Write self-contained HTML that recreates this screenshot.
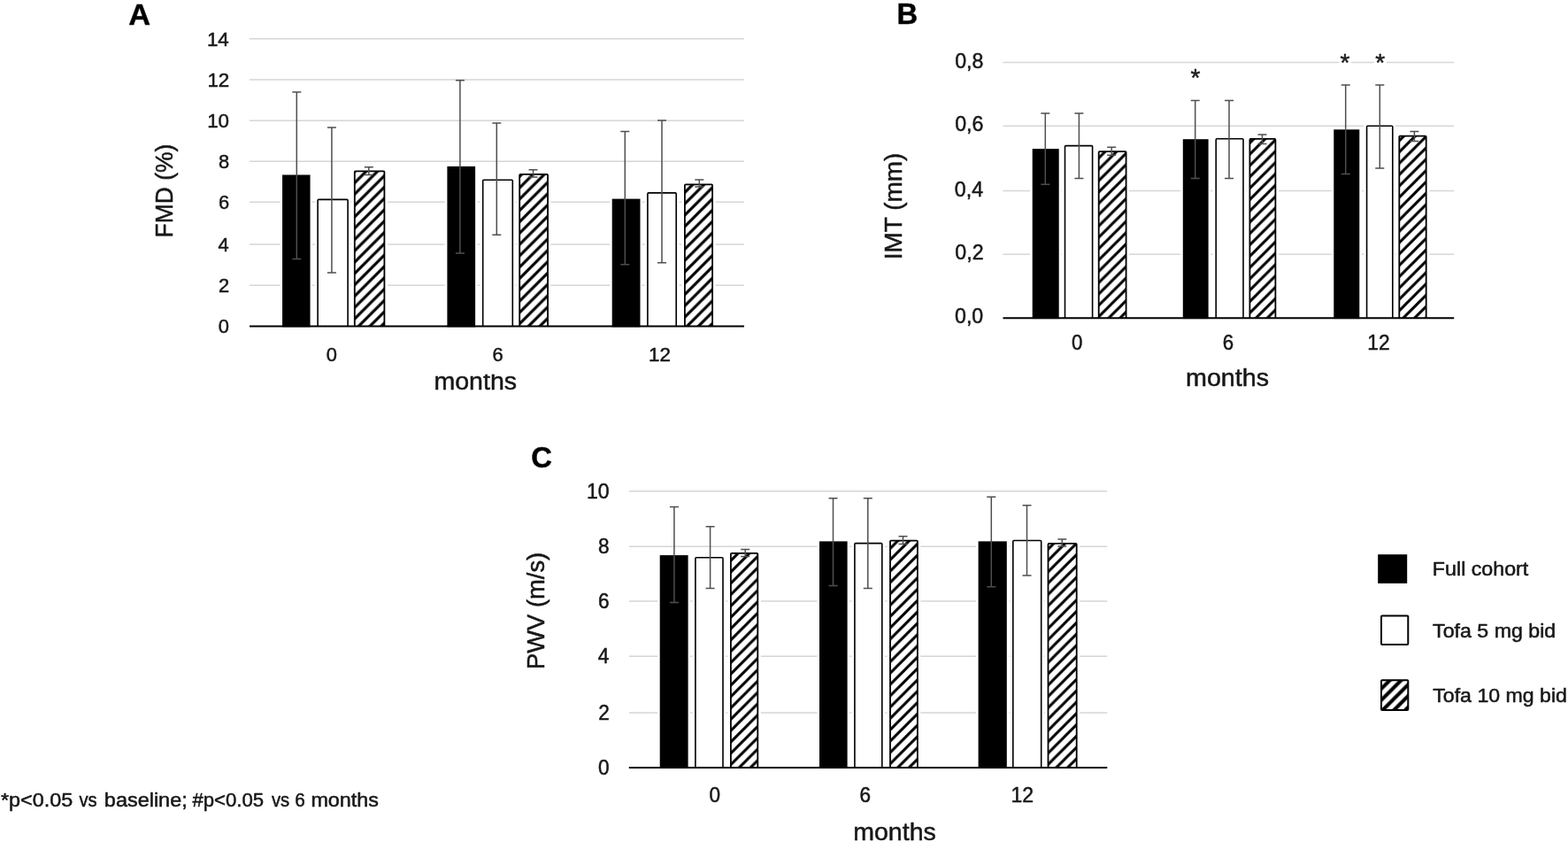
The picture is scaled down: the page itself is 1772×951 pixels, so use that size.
<!DOCTYPE html>
<html lang="en"><head><meta charset="utf-8"><title>Figure: FMD, IMT and PWV over 12 months</title>
<style>html,body{margin:0;padding:0;background:#fff;}body{width:1772px;height:951px;overflow:hidden;}svg{display:block;}text{font-family:'Liberation Sans', 'DejaVu Sans', sans-serif;}</style>
</head><body>
<svg width="1772" height="951" viewBox="0 0 1772 951" font-family="'Liberation Sans', 'DejaVu Sans', sans-serif" fill="#161616">
<style>text{stroke:#161616;stroke-width:0.5px;stroke-linejoin:round;}</style>
<defs>
<pattern id="hatchA" patternUnits="userSpaceOnUse" width="12.8" height="12.8" patternTransform="translate(0 5.7)"><rect width="12.8" height="12.8" fill="#fff"/><path d="M-12.8 25.6L25.6 -12.8M-12.8 12.8L25.6 -25.6M-12.8 38.400000000000006L25.6 0" stroke="#000" stroke-width="3.2" fill="none"/></pattern>
<pattern id="hatchB" patternUnits="userSpaceOnUse" width="12.8" height="12.8" patternTransform="translate(0 12.2)"><rect width="12.8" height="12.8" fill="#fff"/><path d="M-12.8 25.6L25.6 -12.8M-12.8 12.8L25.6 -25.6M-12.8 38.400000000000006L25.6 0" stroke="#000" stroke-width="3.0" fill="none"/></pattern>
<pattern id="hatchC" patternUnits="userSpaceOnUse" width="12.8" height="12.8" patternTransform="translate(0 12.7)"><rect width="12.8" height="12.8" fill="#fff"/><path d="M-12.8 25.6L25.6 -12.8M-12.8 12.8L25.6 -25.6M-12.8 38.400000000000006L25.6 0" stroke="#000" stroke-width="3.0" fill="none"/></pattern>
<pattern id="hatchL" patternUnits="userSpaceOnUse" width="12.8" height="12.8" patternTransform="translate(0 9.4)"><rect width="12.8" height="12.8" fill="#fff"/><path d="M-12.8 25.6L25.6 -12.8M-12.8 12.8L25.6 -25.6M-12.8 38.400000000000006L25.6 0" stroke="#000" stroke-width="4.1" fill="none"/></pattern>
<filter id="soft" filterUnits="userSpaceOnUse" x="0" y="0" width="1772" height="951"><feGaussianBlur stdDeviation="0.45"/></filter>
</defs>
<rect width="1772" height="951" fill="#fff"/>
<g filter="url(#soft)">
<g id="panel-A">
<line x1="282.0" y1="322.25" x2="841.0" y2="322.25" stroke="#d6d6d6" stroke-width="1.5"/>
<line x1="282.0" y1="276.00" x2="841.0" y2="276.00" stroke="#d6d6d6" stroke-width="1.5"/>
<line x1="282.0" y1="228.30" x2="841.0" y2="228.30" stroke="#d6d6d6" stroke-width="1.5"/>
<line x1="282.0" y1="182.20" x2="841.0" y2="182.20" stroke="#d6d6d6" stroke-width="1.5"/>
<line x1="282.0" y1="136.15" x2="841.0" y2="136.15" stroke="#d6d6d6" stroke-width="1.5"/>
<line x1="282.0" y1="89.90" x2="841.0" y2="89.90" stroke="#d6d6d6" stroke-width="1.5"/>
<line x1="282.0" y1="43.80" x2="841.0" y2="43.80" stroke="#d6d6d6" stroke-width="1.5"/>
<text x="246.77" y="376.15" font-size="22.8" textLength="12.17" lengthAdjust="spacingAndGlyphs">0</text>
<text x="247.05" y="329.95" font-size="22.8" textLength="12.17" lengthAdjust="spacingAndGlyphs">2</text>
<text x="246.55" y="283.70" font-size="22.8" textLength="12.17" lengthAdjust="spacingAndGlyphs">4</text>
<text x="246.88" y="236.00" font-size="22.8" textLength="12.17" lengthAdjust="spacingAndGlyphs">6</text>
<text x="246.88" y="189.90" font-size="22.8" textLength="12.17" lengthAdjust="spacingAndGlyphs">8</text>
<text x="234.14" y="143.85" font-size="22.8" textLength="24.85" lengthAdjust="spacingAndGlyphs">10</text>
<text x="234.42" y="97.60" font-size="22.8" textLength="24.85" lengthAdjust="spacingAndGlyphs">12</text>
<text x="233.91" y="51.50" font-size="22.8" textLength="24.85" lengthAdjust="spacingAndGlyphs">14</text>
<rect x="316.45" y="195.10" width="36.70" height="173.35" fill="#fff"/>
<rect x="355.70" y="222.20" width="40.80" height="146.25" fill="#fff"/>
<rect x="397.30" y="190.00" width="40.60" height="178.45" fill="#fff"/>
<rect x="502.80" y="185.50" width="36.90" height="182.95" fill="#fff"/>
<rect x="542.30" y="200.00" width="40.40" height="168.45" fill="#fff"/>
<rect x="583.70" y="193.60" width="38.85" height="174.85" fill="#fff"/>
<rect x="689.10" y="222.20" width="37.00" height="146.25" fill="#fff"/>
<rect x="728.50" y="214.70" width="39.10" height="153.75" fill="#fff"/>
<rect x="770.40" y="205.10" width="38.20" height="163.35" fill="#fff"/>
<rect x="319.05" y="197.50" width="31.50" height="171.85" fill="#000"/>
<path d="M359.10 368.45V226.40Q359.10 225.40 360.10 225.40H392.10Q393.10 225.40 393.10 226.40V368.45" fill="#fff" stroke="#000" stroke-width="1.6"/>
<path d="M400.80 368.45V194.30Q400.80 193.30 401.80 193.30H433.40Q434.40 193.30 434.40 194.30V368.45" fill="url(#hatchA)" stroke="#000" stroke-width="1.8"/>
<rect x="505.40" y="187.90" width="31.70" height="181.45" fill="#000"/>
<path d="M545.70 368.45V204.20Q545.70 203.20 546.70 203.20H578.30Q579.30 203.20 579.30 204.20V368.45" fill="#fff" stroke="#000" stroke-width="1.6"/>
<path d="M587.20 368.45V197.90Q587.20 196.90 588.20 196.90H618.05Q619.05 196.90 619.05 197.90V368.45" fill="url(#hatchA)" stroke="#000" stroke-width="1.8"/>
<rect x="691.70" y="224.60" width="31.80" height="144.75" fill="#000"/>
<path d="M731.90 368.45V218.90Q731.90 217.90 732.90 217.90H763.20Q764.20 217.90 764.20 218.90V368.45" fill="#fff" stroke="#000" stroke-width="1.6"/>
<path d="M773.90 368.45V209.40Q773.90 208.40 774.90 208.40H804.10Q805.10 208.40 805.10 209.40V368.45" fill="url(#hatchA)" stroke="#000" stroke-width="1.8"/>
<line x1="282.0" y1="368.45" x2="841.0" y2="368.45" stroke="#000" stroke-width="1.9"/>
<path d="M335.3 103.9V292.4M330.3 103.9h10M330.3 292.4h10" stroke="#4f4f4f" stroke-width="1.5" fill="none"/>
<path d="M374.9 144.0V308.1M369.9 144.0h10M369.9 308.1h10" stroke="#4f4f4f" stroke-width="1.5" fill="none"/>
<path d="M416.8 188.7V197.6M411.8 188.7h10M411.8 197.6h10" stroke="#4f4f4f" stroke-width="1.5" fill="none"/>
<path d="M519.9 90.7V286.0M514.9 90.7h10M514.9 286.0h10" stroke="#4f4f4f" stroke-width="1.5" fill="none"/>
<path d="M561.3 138.9V265.2M556.3 138.9h10M556.3 265.2h10" stroke="#4f4f4f" stroke-width="1.5" fill="none"/>
<path d="M602.5 191.7V200.0M597.5 191.7h10M597.5 200.0h10" stroke="#4f4f4f" stroke-width="1.5" fill="none"/>
<path d="M706.3 148.6V298.7M701.3 148.6h10M701.3 298.7h10" stroke="#4f4f4f" stroke-width="1.5" fill="none"/>
<path d="M748.0 136.1V296.7M743.0 136.1h10M743.0 296.7h10" stroke="#4f4f4f" stroke-width="1.5" fill="none"/>
<path d="M790.3 202.9V211.0M785.3 202.9h10M785.3 211.0h10" stroke="#4f4f4f" stroke-width="1.5" fill="none"/>
<text x="368.70" y="407.50" font-size="22.8" textLength="12.17" lengthAdjust="spacingAndGlyphs">0</text>
<text x="556.54" y="407.50" font-size="22.8" textLength="12.17" lengthAdjust="spacingAndGlyphs">6</text>
<text x="733.12" y="407.50" font-size="22.8" textLength="24.85" lengthAdjust="spacingAndGlyphs">12</text>
<clipPath id="clip-A"><rect x="482.4" y="422.7" width="110.7" height="40"/></clipPath>
<text x="490.47" y="439.60" font-size="28" textLength="93.61" lengthAdjust="spacingAndGlyphs" clip-path="url(#clip-A)">months</text>
<text x="194.70" y="268.38" font-size="28" textLength="105.67" lengthAdjust="spacingAndGlyphs" transform="rotate(-90 194.70 268.38)">FMD (%)</text>
<text x="145.34" y="27.90" font-size="33" textLength="24.79" lengthAdjust="spacingAndGlyphs" font-weight="bold" fill="#000">A</text>
</g>
<g id="panel-B">
<line x1="1133.5" y1="287.30" x2="1643.2" y2="287.30" stroke="#d6d6d6" stroke-width="1.5"/>
<line x1="1133.5" y1="215.60" x2="1643.2" y2="215.60" stroke="#d6d6d6" stroke-width="1.5"/>
<line x1="1133.5" y1="142.35" x2="1643.2" y2="142.35" stroke="#d6d6d6" stroke-width="1.5"/>
<line x1="1133.5" y1="70.60" x2="1643.2" y2="70.60" stroke="#d6d6d6" stroke-width="1.5"/>
<text x="1079.02" y="365.30" font-size="23.2" textLength="32.25" lengthAdjust="spacingAndGlyphs">0,0</text>
<text x="1079.31" y="293.40" font-size="23.2" textLength="32.25" lengthAdjust="spacingAndGlyphs">0,2</text>
<text x="1078.79" y="221.70" font-size="23.2" textLength="32.25" lengthAdjust="spacingAndGlyphs">0,4</text>
<text x="1079.14" y="148.45" font-size="23.2" textLength="32.25" lengthAdjust="spacingAndGlyphs">0,6</text>
<text x="1079.14" y="76.70" font-size="23.2" textLength="32.25" lengthAdjust="spacingAndGlyphs">0,8</text>
<rect x="1164.10" y="165.70" width="35.20" height="193.50" fill="#fff"/>
<rect x="1200.10" y="161.40" width="37.90" height="197.80" fill="#fff"/>
<rect x="1238.20" y="167.80" width="37.90" height="191.40" fill="#fff"/>
<rect x="1334.20" y="154.80" width="34.00" height="204.40" fill="#fff"/>
<rect x="1370.80" y="153.60" width="37.60" height="205.60" fill="#fff"/>
<rect x="1408.90" y="153.60" width="36.00" height="205.60" fill="#fff"/>
<rect x="1504.70" y="143.90" width="34.20" height="215.30" fill="#fff"/>
<rect x="1541.20" y="139.10" width="36.00" height="220.10" fill="#fff"/>
<rect x="1577.80" y="150.30" width="37.40" height="208.90" fill="#fff"/>
<rect x="1344.0" y="75.7" width="14" height="14" fill="#fff"/>
<rect x="1513.0" y="58.1" width="14" height="14" fill="#fff"/>
<rect x="1552.7" y="58.1" width="14" height="14" fill="#fff"/>
<rect x="1166.70" y="168.10" width="30.00" height="192.00" fill="#000"/>
<path d="M1203.50 359.20V165.60Q1203.50 164.60 1204.50 164.60H1233.60Q1234.60 164.60 1234.60 165.60V359.20" fill="#fff" stroke="#000" stroke-width="1.6"/>
<path d="M1241.70 359.20V172.10Q1241.70 171.10 1242.70 171.10H1271.60Q1272.60 171.10 1272.60 172.10V359.20" fill="url(#hatchB)" stroke="#000" stroke-width="1.8"/>
<rect x="1336.80" y="157.20" width="28.80" height="202.90" fill="#000"/>
<path d="M1374.20 359.20V157.80Q1374.20 156.80 1375.20 156.80H1404.00Q1405.00 156.80 1405.00 157.80V359.20" fill="#fff" stroke="#000" stroke-width="1.6"/>
<path d="M1412.40 359.20V157.90Q1412.40 156.90 1413.40 156.90H1440.40Q1441.40 156.90 1441.40 157.90V359.20" fill="url(#hatchB)" stroke="#000" stroke-width="1.8"/>
<rect x="1507.30" y="146.30" width="29.00" height="213.80" fill="#000"/>
<path d="M1544.60 359.20V143.30Q1544.60 142.30 1545.60 142.30H1572.80Q1573.80 142.30 1573.80 143.30V359.20" fill="#fff" stroke="#000" stroke-width="1.6"/>
<path d="M1581.30 359.20V154.60Q1581.30 153.60 1582.30 153.60H1610.70Q1611.70 153.60 1611.70 154.60V359.20" fill="url(#hatchB)" stroke="#000" stroke-width="1.8"/>
<line x1="1133.5" y1="359.20" x2="1643.2" y2="359.20" stroke="#000" stroke-width="1.9"/>
<path d="M1181.3 128.0V208.2M1176.3 128.0h10M1176.3 208.2h10" stroke="#4f4f4f" stroke-width="1.5" fill="none"/>
<path d="M1219.4 128.0V201.4M1214.4 128.0h10M1214.4 201.4h10" stroke="#4f4f4f" stroke-width="1.5" fill="none"/>
<path d="M1256.2 166.3V175.2M1251.2 166.3h10M1251.2 175.2h10" stroke="#4f4f4f" stroke-width="1.5" fill="none"/>
<path d="M1350.7 113.5V201.4M1345.7 113.5h10M1345.7 201.4h10" stroke="#4f4f4f" stroke-width="1.5" fill="none"/>
<path d="M1389.0 113.5V201.4M1384.0 113.5h10M1384.0 201.4h10" stroke="#4f4f4f" stroke-width="1.5" fill="none"/>
<path d="M1426.5 151.9V162.5M1421.5 151.9h10M1421.5 162.5h10" stroke="#4f4f4f" stroke-width="1.5" fill="none"/>
<path d="M1520.7 96.0V196.5M1515.7 96.0h10M1515.7 196.5h10" stroke="#4f4f4f" stroke-width="1.5" fill="none"/>
<path d="M1559.3 96.0V189.9M1554.3 96.0h10M1554.3 189.9h10" stroke="#4f4f4f" stroke-width="1.5" fill="none"/>
<path d="M1598.4 148.6V159.5M1593.4 148.6h10M1593.4 159.5h10" stroke="#4f4f4f" stroke-width="1.5" fill="none"/>
<text x="1211.09" y="394.70" font-size="23.2" textLength="12.39" lengthAdjust="spacingAndGlyphs">0</text>
<text x="1381.64" y="394.70" font-size="23.2" textLength="12.39" lengthAdjust="spacingAndGlyphs">6</text>
<text x="1545.30" y="394.70" font-size="23.2" textLength="25.29" lengthAdjust="spacingAndGlyphs">12</text>
<text x="1340.06" y="436.10" font-size="28" textLength="94.02" lengthAdjust="spacingAndGlyphs">months</text>
<text x="1019.20" y="293.18" font-size="28" textLength="120.46" lengthAdjust="spacingAndGlyphs" transform="rotate(-90 1019.20 293.18)">IMT (mm)</text>
<text x="1013.49" y="27.10" font-size="33" textLength="23.68" lengthAdjust="spacingAndGlyphs" font-weight="bold" fill="#000">B</text>
<text x="1345.54" y="97.20" font-size="28" textLength="10.90" lengthAdjust="spacingAndGlyphs" fill="#222">*</text>
<text x="1514.54" y="79.60" font-size="28" textLength="10.90" lengthAdjust="spacingAndGlyphs" fill="#222">*</text>
<text x="1554.24" y="79.60" font-size="28" textLength="10.90" lengthAdjust="spacingAndGlyphs" fill="#222">*</text>
</g>
<g id="panel-C">
<line x1="710.8" y1="805.05" x2="1251.3" y2="805.05" stroke="#d6d6d6" stroke-width="1.5"/>
<line x1="710.8" y1="741.30" x2="1251.3" y2="741.30" stroke="#d6d6d6" stroke-width="1.5"/>
<line x1="710.8" y1="679.00" x2="1251.3" y2="679.00" stroke="#d6d6d6" stroke-width="1.5"/>
<line x1="710.8" y1="617.15" x2="1251.3" y2="617.15" stroke="#d6d6d6" stroke-width="1.5"/>
<line x1="710.8" y1="554.80" x2="1251.3" y2="554.80" stroke="#d6d6d6" stroke-width="1.5"/>
<text x="675.93" y="874.90" font-size="23.5" textLength="12.55" lengthAdjust="spacingAndGlyphs">0</text>
<text x="676.21" y="812.95" font-size="23.5" textLength="12.55" lengthAdjust="spacingAndGlyphs">2</text>
<text x="675.70" y="749.20" font-size="23.5" textLength="12.55" lengthAdjust="spacingAndGlyphs">4</text>
<text x="676.04" y="686.90" font-size="23.5" textLength="12.55" lengthAdjust="spacingAndGlyphs">6</text>
<text x="676.04" y="625.05" font-size="23.5" textLength="12.55" lengthAdjust="spacingAndGlyphs">8</text>
<text x="662.90" y="562.70" font-size="23.5" textLength="25.62" lengthAdjust="spacingAndGlyphs">10</text>
<rect x="743.10" y="624.70" width="37.10" height="242.30" fill="#fff"/>
<rect x="782.50" y="626.60" width="37.90" height="240.40" fill="#fff"/>
<rect x="822.40" y="621.50" width="37.40" height="245.50" fill="#fff"/>
<rect x="923.40" y="609.00" width="36.80" height="258.00" fill="#fff"/>
<rect x="962.50" y="610.40" width="37.70" height="256.60" fill="#fff"/>
<rect x="1002.50" y="607.30" width="37.90" height="259.70" fill="#fff"/>
<rect x="1103.00" y="609.00" width="37.40" height="258.00" fill="#fff"/>
<rect x="1141.40" y="607.30" width="38.70" height="259.70" fill="#fff"/>
<rect x="1181.00" y="610.60" width="39.20" height="256.40" fill="#fff"/>
<rect x="745.70" y="627.10" width="31.90" height="240.80" fill="#000"/>
<path d="M785.90 867.00V630.80Q785.90 629.80 786.90 629.80H816.00Q817.00 629.80 817.00 630.80V867.00" fill="#fff" stroke="#000" stroke-width="1.6"/>
<path d="M825.90 867.00V625.80Q825.90 624.80 826.90 624.80H855.30Q856.30 624.80 856.30 625.80V867.00" fill="url(#hatchC)" stroke="#000" stroke-width="1.8"/>
<rect x="926.00" y="611.40" width="31.60" height="256.50" fill="#000"/>
<path d="M965.90 867.00V614.60Q965.90 613.60 966.90 613.60H995.80Q996.80 613.60 996.80 614.60V867.00" fill="#fff" stroke="#000" stroke-width="1.6"/>
<path d="M1006.00 867.00V611.60Q1006.00 610.60 1007.00 610.60H1035.90Q1036.90 610.60 1036.90 611.60V867.00" fill="url(#hatchC)" stroke="#000" stroke-width="1.8"/>
<rect x="1105.60" y="611.40" width="32.20" height="256.50" fill="#000"/>
<path d="M1144.80 867.00V611.50Q1144.80 610.50 1145.80 610.50H1175.70Q1176.70 610.50 1176.70 611.50V867.00" fill="#fff" stroke="#000" stroke-width="1.6"/>
<path d="M1184.50 867.00V614.90Q1184.50 613.90 1185.50 613.90H1215.70Q1216.70 613.90 1216.70 614.90V867.00" fill="url(#hatchC)" stroke="#000" stroke-width="1.8"/>
<line x1="710.8" y1="867.00" x2="1251.3" y2="867.00" stroke="#000" stroke-width="1.9"/>
<path d="M761.9 572.4V680.6M756.9 572.4h10M756.9 680.6h10" stroke="#4f4f4f" stroke-width="1.5" fill="none"/>
<path d="M802.6 594.8V664.6M797.6 594.8h10M797.6 664.6h10" stroke="#4f4f4f" stroke-width="1.5" fill="none"/>
<path d="M842.2 620.4V628.6M837.2 620.4h10M837.2 628.6h10" stroke="#4f4f4f" stroke-width="1.5" fill="none"/>
<path d="M941.5 562.8V661.6M936.5 562.8h10M936.5 661.6h10" stroke="#4f4f4f" stroke-width="1.5" fill="none"/>
<path d="M980.8 562.8V664.6M975.8 562.8h10M975.8 664.6h10" stroke="#4f4f4f" stroke-width="1.5" fill="none"/>
<path d="M1020.5 605.7V614.6M1015.5 605.7h10M1015.5 614.6h10" stroke="#4f4f4f" stroke-width="1.5" fill="none"/>
<path d="M1120.3 561.3V662.8M1115.3 561.3h10M1115.3 662.8h10" stroke="#4f4f4f" stroke-width="1.5" fill="none"/>
<path d="M1160.5 570.7V650.1M1155.5 570.7h10M1155.5 650.1h10" stroke="#4f4f4f" stroke-width="1.5" fill="none"/>
<path d="M1200.3 609.0V617.1M1195.3 609.0h10M1195.3 617.1h10" stroke="#4f4f4f" stroke-width="1.5" fill="none"/>
<text x="801.51" y="906.00" font-size="23.5" textLength="12.55" lengthAdjust="spacingAndGlyphs">0</text>
<text x="971.55" y="906.00" font-size="23.5" textLength="12.55" lengthAdjust="spacingAndGlyphs">6</text>
<text x="1142.43" y="906.00" font-size="23.5" textLength="25.62" lengthAdjust="spacingAndGlyphs">12</text>
<text x="964.28" y="948.90" font-size="28" textLength="93.50" lengthAdjust="spacingAndGlyphs">months</text>
<text x="615.30" y="755.96" font-size="28" textLength="132.17" lengthAdjust="spacingAndGlyphs" transform="rotate(-90 615.30 755.96)">PWV (m/s)</text>
<text x="600.19" y="527.60" font-size="33" textLength="23.60" lengthAdjust="spacingAndGlyphs" font-weight="bold" fill="#000">C</text>
</g>
<g id="legend">
<rect x="1557.2" y="626.2" width="33" height="32.7" fill="#000"/>
<rect x="1561" y="695.5" width="30.3" height="32.5" fill="#fff" stroke="#000" stroke-width="2" rx="1"/>
<rect x="1561" y="768.3" width="30.3" height="33.7" fill="url(#hatchL)" stroke="#000" stroke-width="2" rx="1"/>
<text x="1618.88" y="649.70" font-size="22" textLength="108.42" lengthAdjust="spacingAndGlyphs">Full cohort</text>
<text x="1619.08" y="719.70" font-size="22" textLength="139.10" lengthAdjust="spacingAndGlyphs">Tofa 5 mg bid</text>
<text x="1619.28" y="793.40" font-size="22" textLength="151.62" lengthAdjust="spacingAndGlyphs">Tofa 10 mg bid</text>
</g>
<text id="footnote" y="910.6" font-size="21.5"><tspan x="0.99" textLength="81.26" lengthAdjust="spacingAndGlyphs">*p&lt;0.05</tspan> <tspan x="89.50" textLength="20.21" lengthAdjust="spacingAndGlyphs">vs</tspan> <tspan x="117.88" textLength="93.85" lengthAdjust="spacingAndGlyphs">baseline;</tspan> <tspan x="217.49" textLength="80.60" lengthAdjust="spacingAndGlyphs">#p&lt;0.05</tspan> <tspan x="306.90" textLength="20.31" lengthAdjust="spacingAndGlyphs">vs</tspan> <tspan x="333.26" textLength="11.54" lengthAdjust="spacingAndGlyphs">6</tspan> <tspan x="351.43" textLength="76.48" lengthAdjust="spacingAndGlyphs">months</tspan></text>
</g>
</svg></body></html>
